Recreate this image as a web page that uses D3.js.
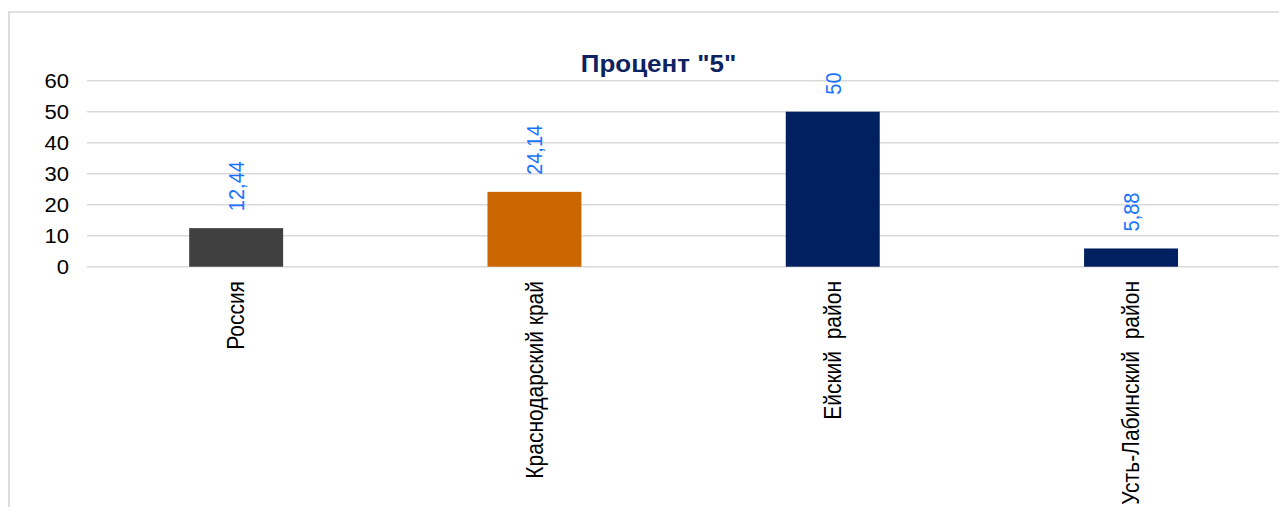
<!DOCTYPE html>
<html>
<head>
<meta charset="utf-8">
<script src="https://cdn.jsdelivr.net/npm/d3@7"></script>
<style>
  html, body { margin: 0; padding: 0; background: #ffffff; overflow: hidden; }
  svg { display: block; }
  text { font-family: "Liberation Sans", Arial, sans-serif; }
</style>
</head>
<body>
<svg id="chart"></svg>
<script>
// ---- data ----
const categories = ["Россия", "Краснодарский край", "Ейский  район", "Усть-Лабинский  район"];
const values = [12.44, 24.14, 50, 5.88];
const valueLabels = ["12,44", "24,14", "50", "5,88"];
const barColors = ["#404040", "#cc6600", "#002060", "#002060"];
const yTicks = [0, 10, 20, 30, 40, 50, 60];
const title = "Процент \"5\"";

// ---- layout ----
const W = 1279, H = 507;
const S = 1.13; // horizontal stretch of the original rendering
const X = px => px / S; // convert screen x to internal units

const svg = d3.select("#chart")
  .attr("width", W).attr("height", H)
  .attr("viewBox", `0 0 ${W / S} ${H}`)
  .attr("preserveAspectRatio", "none");

// outer chart border
svg.append("rect")
  .attr("x", X(9)).attr("y", 12)
  .attr("width", X(1400)).attr("height", 600)
  .attr("fill", "#ffffff")
  .attr("stroke", "#d9d9d9").attr("stroke-width", 1.6);

const x = d3.scaleBand()
  .domain(categories)
  .range([X(87), X(1280.2)])
  .paddingInner(0.685)
  .paddingOuter(0.3425);

const y = d3.scaleLinear().domain([0, 60]).range([266.7, 80.7]);

// gridlines
svg.append("g").selectAll("line").data(yTicks).join("line")
  .attr("x1", X(87)).attr("x2", X(1300))
  .attr("y1", d => y(d)).attr("y2", d => y(d))
  .attr("stroke", "#d9d9d9").attr("stroke-width", 1.5);

// y axis labels
const yAxis = d3.axisLeft(y).tickValues(yTicks).tickSize(0).tickPadding(0).tickFormat(d3.format("d"));
const ya = svg.append("g").attr("transform", `translate(${X(69)},0)`).call(yAxis);
ya.select(".domain").remove();
ya.selectAll("text")
  .attr("font-size", 19.5)
  .attr("fill", "#000000")
  .attr("font-family", "Liberation Sans, Arial, sans-serif")
  .attr("dy", "0.36em");

// bars
svg.append("g").selectAll("rect").data(values).join("rect")
  .attr("x", (d, i) => x(categories[i]))
  .attr("width", x.bandwidth())
  .attr("y", d => y(d))
  .attr("height", d => y(0) - y(d))
  .attr("fill", (d, i) => barColors[i]);

// value labels
svg.append("g").selectAll("text").data(values).join("text")
  .attr("transform", (d, i) => `translate(${x(categories[i]) + x.bandwidth() / 2},${y(d) - 17}) rotate(-90)`)
  .attr("text-anchor", "start")
  .attr("dy", "0.35em")
  .attr("font-size", 20)
  .attr("fill", "#1a73ff")
  .text((d, i) => valueLabels[i]);

// category labels
svg.append("g").selectAll("text").data(categories).join("text")
  .attr("transform", d => `translate(${x(d) + x.bandwidth() / 2},281) rotate(-90)`)
  .attr("text-anchor", "end")
  .attr("dy", "0.35em")
  .attr("font-size", 21)
  .attr("fill", "#000000")
  .style("white-space", "pre")
  .text(d => d);

// title
svg.append("text")
  .attr("x", X(658.5)).attr("y", 72)
  .attr("text-anchor", "middle")
  .attr("font-size", 23)
  .attr("font-weight", "bold")
  .attr("fill", "#0d2260")
  .text(title);
</script>
</body>
</html>
